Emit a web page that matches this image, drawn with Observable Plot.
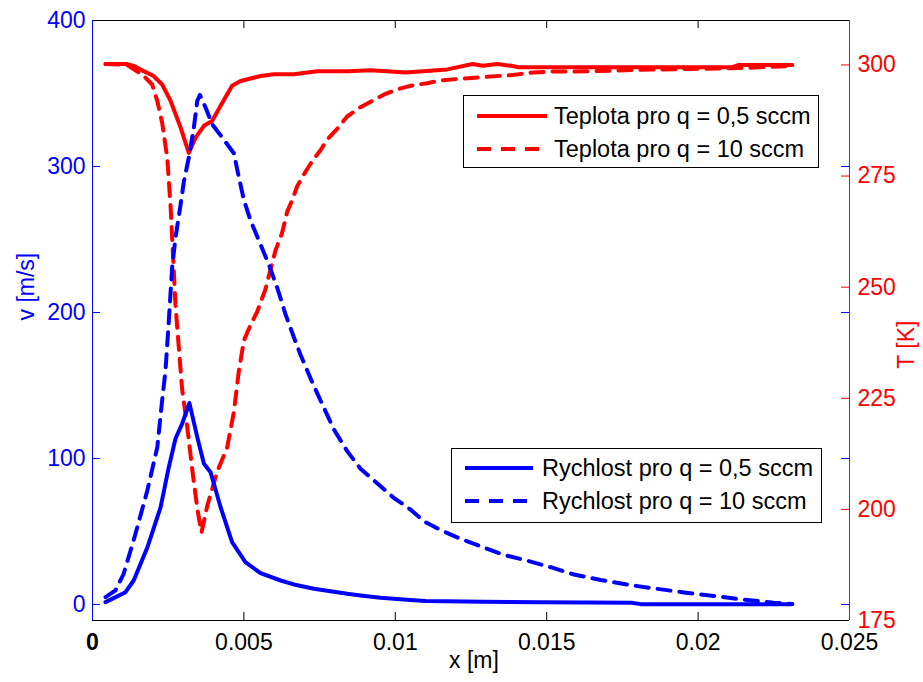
<!DOCTYPE html>
<html>
<head>
<meta charset="utf-8">
<script src="https://cdn.jsdelivr.net/npm/d3@7"></script>
<script src="https://cdn.jsdelivr.net/npm/@observablehq/plot@0.6"></script>
<style>
  body { margin: 0; background: #fff; font-family: "Liberation Sans", Arial, sans-serif; }
  #wrap { position: relative; width: 923px; height: 682px; overflow: hidden; }
  #wrap > svg { position: absolute; left: 0; top: 0; }
</style>
</head>
<body>
<div id="wrap"></div>
<script>
// ---- tick labels ----
const xTicks = [0, 0.005, 0.01, 0.015, 0.02, 0.025];
const vTicks = [0, 100, 200, 300, 400];
const tTicks = [175, 200, 225, 250, 275, 300];

// ---- Rychlost (velocity) q = 0,5 sccm ----
const xVelSlow = [0.00043,0.00109,0.00136,0.00181,0.00225,0.00252,0.00274,0.00296,0.00320,0.00346,0.00368,0.00390,0.00423,0.00461,0.00505,0.00555,0.00621,0.00665,0.00731,0.00786,0.00841,0.00885,0.00951,0.01050,0.01100,0.01290,0.01480,0.01780,0.01810,0.02311];
const vSlow    = [1.6,8.4,16.4,39,66.6,94,113.5,123.8,137.9,114.6,96.4,90.6,66.6,42.7,29,21.4,16.4,13.7,10.7,9.1,7.3,6.2,4.6,3.0,2.4,1.8,1.5,1.2,0.2,0.1];

// ---- Rychlost (velocity) q = 10 sccm ----
const xVelFast = [0.00043,0.00076,0.00103,0.00142,0.00181,0.00214,0.00230,0.00241,0.00252,0.00263,0.00274,0.00291,0.00302,0.00318,0.00335,0.00346,0.00355,0.00373,0.00395,0.00428,0.00467,0.00483,0.00500,0.00522,0.00544,0.00582,0.00610,0.00637,0.00665,0.00687,0.00726,0.00759,0.00797,0.00841,0.00885,0.00940,0.00995,0.01050,0.01094,0.01149,0.01215,0.01292,0.01358,0.01436,0.01513,0.01590,0.01678,0.01777,0.01865,0.01953,0.02052,0.02151,0.02250,0.02311];
const vFast    = [5,9.6,21,48.4,78,107.7,139.7,160,194,231,251,274,290,306,327,345,349,340.6,329,320,309,293,277,263,252,233,217,199,183,171,152,137,120,105,93,83,73,65,57,51,45,39,34,30,25.5,20.5,16.8,13.2,10.7,8.2,5.8,3.3,1.2,0.3];

// ---- Teplota (temperature) q = 0,5 sccm ----
const xTempSlow = [0.00043,0.00115,0.00136,0.00169,0.00202,0.00230,0.00258,0.00291,0.00318,0.00340,0.00368,0.00395,0.00423,0.00461,0.00489,0.00555,0.00599,0.00665,0.00742,0.00841,0.00918,0.01034,0.01172,0.01255,0.01290,0.01336,0.01383,0.01406,0.02112,0.02135,0.02311];
const tSlow     = [300.2,300.2,299.8,298.6,297.5,295.6,291.9,285.9,280.2,283.6,286.3,287.4,290.8,295.3,296.4,297.5,297.9,297.9,298.6,298.6,298.8,298.3,299.0,300.2,299.8,300.2,299.8,299.5,299.5,300.0,300.0];

// ---- Teplota (temperature) q = 10 sccm ----
const xTempFast = [0.00043,0.00115,0.00148,0.00164,0.00197,0.00214,0.00230,0.00247,0.00252,0.00258,0.00263,0.00269,0.00274,0.00285,0.00296,0.00313,0.00329,0.00346,0.00360,0.00379,0.00412,0.00445,0.00467,0.00483,0.00500,0.00522,0.00544,0.00571,0.00588,0.00604,0.00626,0.00643,0.00659,0.00676,0.00703,0.00726,0.00753,0.00775,0.00808,0.00841,0.00885,0.00929,0.00962,0.01006,0.01050,0.01105,0.01149,0.01215,0.01292,0.01380,0.01457,0.01513,0.01590,0.01810,0.02140,0.02311];
const tFast     = [300.2,300.0,298.5,297.9,295.6,291.9,287,279,274,268,261,253,246,236.5,227,218.5,209.2,200.2,194.8,200.8,208.5,214,222,231,238,241.5,244.5,249.5,254,258.2,262.2,267,269.5,272.7,275.9,278.4,280.8,283.2,285.6,288.4,290.5,292.1,293.3,294.5,295.3,295.9,296.5,296.9,297.3,297.7,298.3,298.5,298.5,298.9,299.3,299.8];

const legendTemp = ["Teplota pro q = 0,5 sccm", "Teplota pro q = 10 sccm"];
const legendVel  = ["Rychlost pro q = 0,5 sccm", "Rychlost pro q = 10 sccm"];

const zip = (xs, ys) => xs.map((x, i) => ({x, y: ys[i]})).filter(d => d.y !== undefined);
const velSlow = zip(xVelSlow, vSlow);
const velFast = zip(xVelFast, vFast);
const tempSlow = zip(xTempSlow, tSlow);
const tempFast = zip(xTempFast, tFast);

const BLUE = "#0000ff", RED = "#ff0000";
const W = 923, H = 682;
const M = {marginLeft: 92, marginRight: 74, marginTop: 20, marginBottom: 62};
const FW = W - M.marginLeft - M.marginRight; // 757
const FH = H - M.marginTop - M.marginBottom; // 600
const TL = 8; // tick length
const font = "Liberation Sans, Arial, Helvetica, sans-serif";
const DASH = "13,9";
const LW = 4;
const FS = 23;

// ---- temperature plot (right axis), drawn underneath ----
const tempPlot = Plot.plot({
  width: W, height: H, ...M,
  style: {background: "transparent", fontFamily: font, fontSize: FS + "px", overflow: "visible"},
  x: {domain: [0, 0.025], axis: null},
  y: {domain: [175, 310], axis: null},
  marks: [
    Plot.line(tempFast, {x: "x", y: "y", stroke: RED, strokeWidth: LW, strokeDasharray: DASH, strokeLinejoin: "round"}),
    Plot.line(tempSlow, {x: "x", y: "y", stroke: RED, strokeWidth: LW, strokeLinejoin: "round"}),
    Plot.tickY(tTicks, {y: d => d, stroke: RED, strokeWidth: 1, insetLeft: FW - TL}),
    Plot.axisY({anchor: "right", ticks: tTicks, tickSize: 0, tickPadding: 8, color: RED, fontSize: FS, label: null, tickFormat: d => String(d)}),
    Plot.text(["T [K]"], {frameAnchor: "right", dx: 57, rotate: -90, fill: RED, fontSize: FS})
  ]
});

// ---- velocity plot (left axis) with frame, drawn on top ----
const velPlot = Plot.plot({
  width: W, height: H, ...M,
  style: {background: "transparent", fontFamily: font, fontSize: FS + "px", overflow: "visible"},
  x: {domain: [0, 0.025], axis: null},
  y: {domain: [-11, 400], axis: null},
  marks: [
    Plot.line(velFast, {x: "x", y: "y", stroke: BLUE, strokeWidth: LW, strokeDasharray: DASH, strokeLinejoin: "round"}),
    Plot.line(velSlow, {x: "x", y: "y", stroke: BLUE, strokeWidth: LW, strokeLinejoin: "round"}),
    // ticks
    Plot.tickX(xTicks.slice(1, -1), {x: d => d, stroke: "#000", strokeWidth: 1, insetTop: FH - TL}),
    Plot.tickX(xTicks.slice(1, -1), {x: d => d, stroke: "#000", strokeWidth: 1, insetBottom: FH - TL}),
    Plot.tickY(vTicks, {y: d => d, stroke: BLUE, strokeWidth: 1, insetRight: FW - TL}),
    Plot.tickY(vTicks, {y: d => d, stroke: BLUE, strokeWidth: 1, insetLeft: FW - TL}),
    // spines
    Plot.ruleY([400], {stroke: "#000", strokeWidth: 1}),
    Plot.ruleY([-11], {stroke: "#000", strokeWidth: 1}),
    Plot.ruleX([0], {stroke: BLUE, strokeWidth: 1}),
    Plot.ruleX([0.025], {stroke: RED, strokeWidth: 1}),
    // axes labels
    Plot.axisY({anchor: "left", ticks: vTicks, tickSize: 0, tickPadding: 7, color: BLUE, fontSize: FS, label: null, tickFormat: d => String(d)}),
    Plot.axisX({anchor: "bottom", ticks: xTicks.slice(1), tickSize: 0, tickPadding: 13, color: "#000", fontSize: FS, label: null, tickFormat: d => String(d)}),
    Plot.text([xTicks[0]], {x: d => d, frameAnchor: "bottom", dy: 13, lineAnchor: "top", text: d => String(d), fill: "#000", fontSize: FS, fontWeight: "bold"}),
    Plot.text(["v [m/s]"], {frameAnchor: "left", dx: -66, rotate: -90, fill: BLUE, fontSize: FS}),
    Plot.text(["x [m]"], {frameAnchor: "bottom", dx: 3, dy: 47, fill: "#000", fontSize: FS})
  ]
});

const wrap = document.getElementById("wrap");
wrap.appendChild(tempPlot);
wrap.appendChild(velPlot);

// ---- legends (overlay) ----
const leg = d3.select(wrap).append("svg")
  .attr("width", W).attr("height", H)
  .style("font-family", font);

function legend(box, entries, color, lineX0, lineX1, textX, rowYs) {
  const g = leg.append("g");
  g.append("rect").attr("x", box.x + 0.5).attr("y", box.y + 0.5)
    .attr("width", box.w).attr("height", box.h)
    .attr("fill", "#fff").attr("stroke", "#000").attr("stroke-width", 1);
  entries.forEach((label, i) => {
    const y = rowYs[i];
    g.append("line").attr("x1", lineX0).attr("x2", lineX1).attr("y1", y).attr("y2", y)
      .attr("stroke", color).attr("stroke-width", LW)
      .attr("stroke-dasharray", i === 1 ? "14,10" : null);
    g.append("text").attr("x", textX).attr("y", y).attr("dy", "0.35em")
      .attr("font-size", 23.5).attr("fill", "#000").text(label);
  });
}
legend({x: 463, y: 95, w: 355, h: 72}, legendTemp, RED, 477, 547, 554, [116, 149]);
legend({x: 451, y: 448, w: 370, h: 74}, legendVel, BLUE, 465, 533, 542, [468, 501]);
</script>
</body>
</html>
